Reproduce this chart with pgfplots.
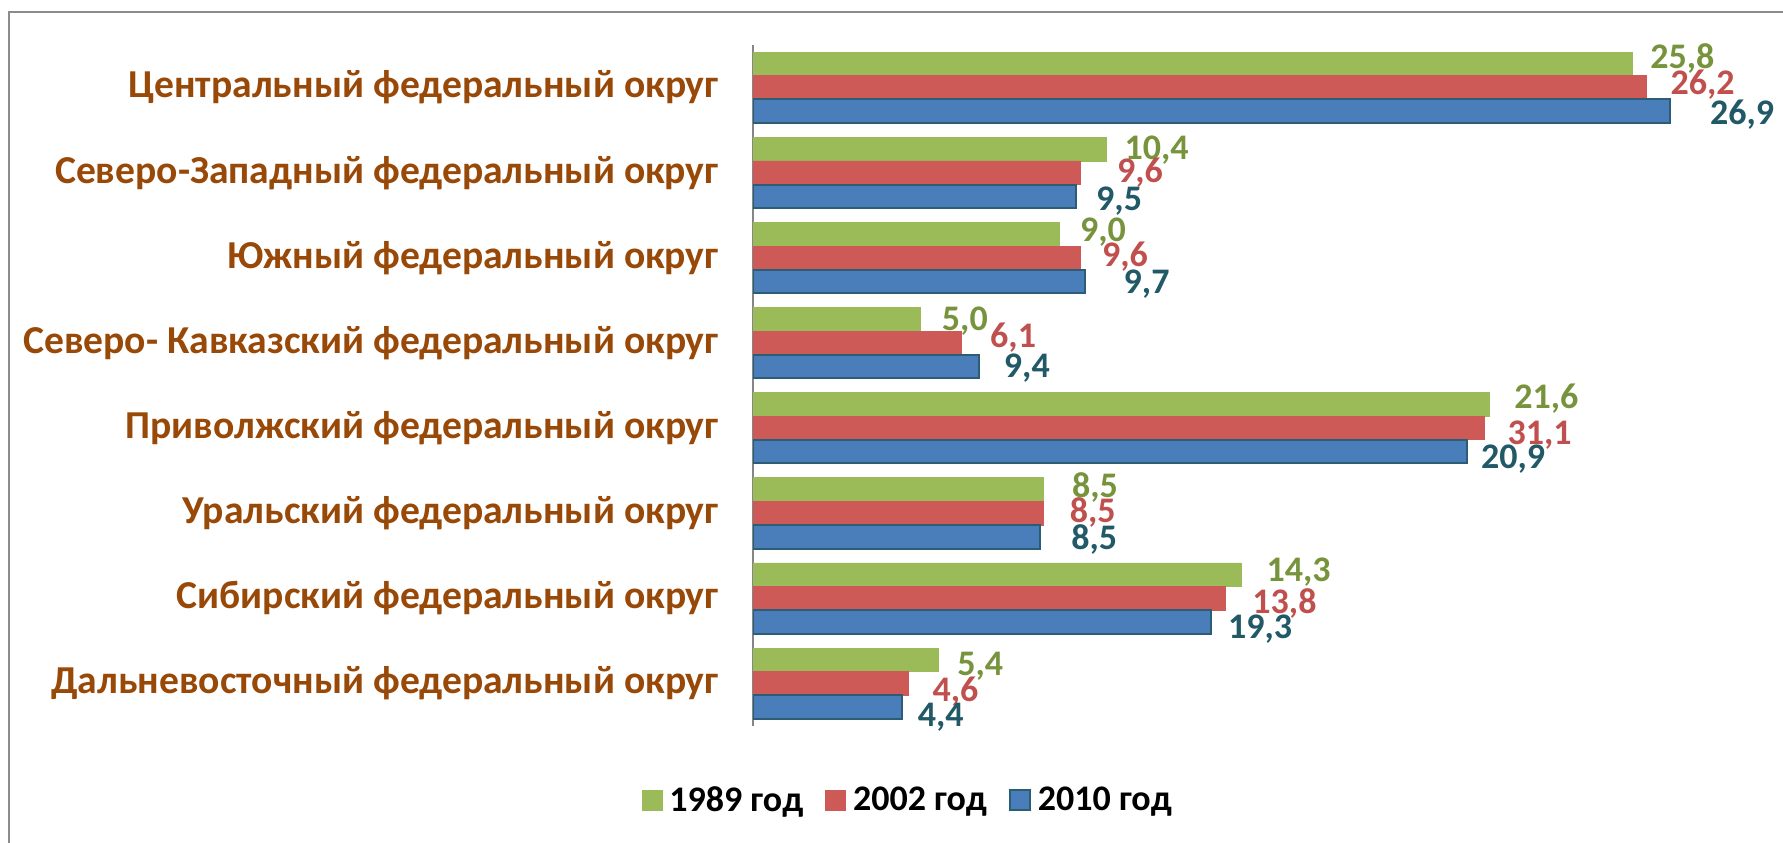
\documentclass[border=0pt]{standalone}
\usepackage{fontspec}
\setmainfont{Carlito}
\usepackage{pgfplots}
\usepackage{pgfplotstable}
\pgfplotsset{compat=1.18}
\definecolor{cgreen}{HTML}{9BBB59}
\definecolor{cred}{HTML}{CD5A56}
\definecolor{cblue}{HTML}{4A7EBB}
\definecolor{cblueedge}{HTML}{2B5E74}
\definecolor{tgreen}{HTML}{77933C}
\definecolor{tred}{HTML}{C0504D}
\definecolor{tblue}{HTML}{215967}
\definecolor{cbrown}{HTML}{984807}
\definecolor{caxis}{HTML}{868686}
\definecolor{cgrid}{HTML}{D9D9D9}
\definecolor{cframe}{HTML}{8C8C8C}

% y: category position (7 = Центральный ... 0 = Дальневосточный)
% x: bar length as drawn, lab: printed value, dx/dy: label offset (pt)
\pgfplotstableread{
y x lab dx dy
7 25.75 25,8 9.0 4.2
6 10.35 10,4 9.0 0.8
5 8.97 9,0 10.3 2.3
4 4.91 5,0 10.5 0.5
3 21.57 21,6 12.3 4.2
2 8.50 8,5 14.3 2.2
1 14.30 14,3 12.5 2.5
0 5.42 5,4 9.5 -1.8
}\tabA
\pgfplotstableread{
y x lab dx dy
7 26.17 26,2 12.0 2.7
6 9.60 9,6 18.0 1.0
5 9.60 9,6 10.5 1.9
4 6.10 6,1 14.3 4.0
3 21.42 31,1 11.5 -2.2
2 8.51 8,5 13.0 1.8
1 13.83 13,8 13.5 -1.5
0 4.55 4,6 12.0 -2.8
}\tabB
\pgfplotstableread{
y x lab dx dy
7 26.87 26,9 19.5 -0.7
6 9.47 9,5 9.5 -1.2
5 9.73 9,7 18.8 0.0
4 6.62 9,4 12.0 0.5
3 20.92 20,9 6.5 -2.5
2 8.42 8,5 15.0 0.0
1 13.43 19,3 7.8 -2.2
0 4.36 4,4 7.5 -4.0
}\tabC

\begin{document}
\begin{tikzpicture}
\useasboundingbox (0,0) rectangle (891.5pt,421pt);
\draw[cframe, line width=1pt] (4.5pt,-2pt) -- (4.5pt,415pt) -- (895pt,415pt);
\begin{axis}[
  at={(376.5pt,58pt)}, anchor=south west,
  scale only axis, width=512pt, height=340.5pt,
  xbar, bar width=11.8pt,
  xmin=0, xmax=30, ymin=-0.5, ymax=7.5,
  axis x line=none,
  axis y line*=left,
  y axis line style={draw=caxis, line width=1pt},
  xtick={10,20,30}, xticklabels={},
  xmajorgrids, grid style={draw=cgrid, line width=0.8pt},
  ytick={0,1,2,3,4,5,6,7},
  yticklabels={Дальневосточный федеральный округ, Сибирский федеральный округ, Уральский федеральный округ, Приволжский федеральный округ, Северо- Кавказский федеральный округ, Южный федеральный округ, Северо-Западный федеральный округ, Центральный федеральный округ},
  major tick length=0pt,
  yticklabel style={font=\bfseries\fontsize{19.8}{20}\selectfont, text=cbrown, inner sep=0pt, xshift=-17pt},
  nodes near coords={\pgfplotspointmeta},
  point meta=explicit symbolic,
  visualization depends on={\thisrow{dx} \as \ldx},
  visualization depends on={\thisrow{dy} \as \ldy},
  every node near coord/.append style={font=\bfseries\fontsize{18}{18}\selectfont, anchor=west, inner sep=0pt, text depth=0pt, xshift=\ldx pt, yshift=\ldy pt},
  legend style={at={(axis description cs:0.152,-0.109)}, anchor=center, draw=none, fill=none,
    font=\bfseries\fontsize{18}{18}\selectfont, text=black,
    /tikz/every even column/.append style={column sep=9pt},
    /tikz/every odd column/.append style={column sep=1.5pt}},
  legend columns=3,
  legend image code/.code={\draw[#1] (0pt,-5pt) rectangle (10pt,5pt);},
]
\addplot[fill=cgreen, draw=cgreen, bar shift=11.8pt, every node near coord/.append style={text=tgreen}] table[x=x, y=y, meta=lab] {\tabA};
\addplot[fill=cred, draw=cred, bar shift=0pt, every node near coord/.append style={text=tred}] table[x=x, y=y, meta=lab] {\tabB};
\addplot[fill=cblue, draw=cblueedge, line width=1pt, bar shift=-11.8pt, every node near coord/.append style={text=tblue}] table[x=x, y=y, meta=lab] {\tabC};
\legend{1989 год, 2002 год, 2010 год}
\end{axis}
\end{tikzpicture}
\end{document}
